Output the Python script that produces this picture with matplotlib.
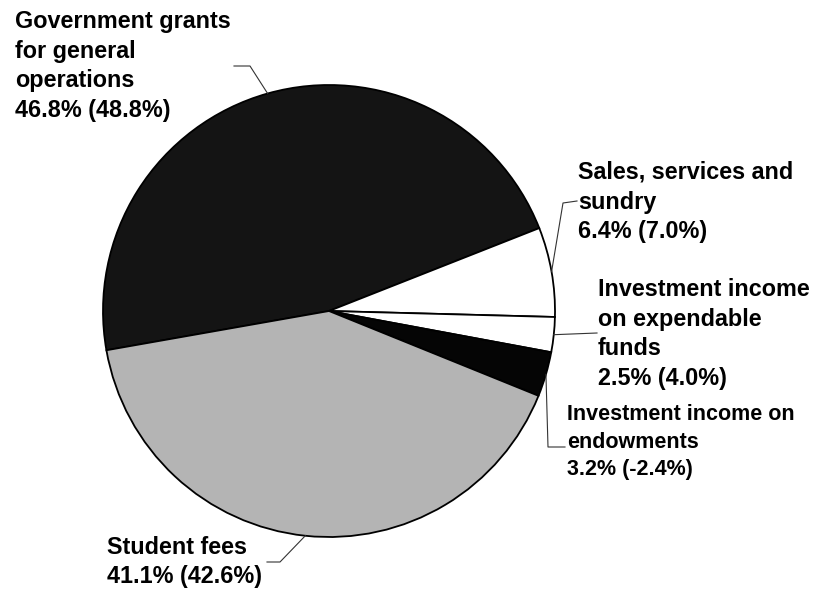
import numpy as np
import matplotlib.pyplot as plt

plt.rcParams['font.family'] = ['Liberation Sans', 'DejaVu Sans']

# revenue shares, in drawing order (clockwise from the left)
categories = ["Government grants\nfor general\noperations",
              "Sales, services and\nsundry",
              "Investment income\non expendable\nfunds",
              "Investment income on\nendowments",
              "Student fees"]
shares = [46.8, 6.4, 2.5, 3.2, 41.1]
prior = [48.8, 7.0, 4.0, -2.4, 42.6]
colors = ['#141414', '#ffffff', '#ffffff', '#050505', '#b4b4b4']

W, H = 819, 591
fig = plt.figure(figsize=(W / 100, H / 100), dpi=100)
ax = fig.add_axes([0, 0, 1, 1])

cx, cy, r = 329, H - 311, 226
start = 190.0
wedges, _ = ax.pie(shares, colors=colors, startangle=start, counterclock=False,
                   center=(cx, cy), radius=r,
                   wedgeprops=dict(edgecolor='black', linewidth=1.3))
ax.set_xlim(0, W)
ax.set_ylim(0, H)
ax.set_aspect('equal')
ax.axis('off')

# label layout: text left x, text centre y (pixels from top), font size, leader elbows
layout = [
    (15, 66, 16.8, [(250, 66), (234, 66)]),
    (578, 202, 16.8, [(563, 203), (577, 201)]),
    (598, 334, 16.8, [(597, 333)]),
    (567, 442, 15.5, [(548, 447), (565, 447)]),
    (107, 562, 16.8, [(280, 562), (267, 562)]),
]

for w, name, s, p, (tx, ty, fs, elbows) in zip(wedges, categories, shares, prior, layout):
    mid = np.deg2rad((w.theta1 + w.theta2) / 2)
    ex, ey = cx + r * np.cos(mid), cy + r * np.sin(mid)
    xs = [ex] + [e[0] for e in elbows]
    ys = [ey] + [H - e[1] for e in elbows]
    ax.plot(xs, ys, color='#333333', linewidth=0.8)
    ax.text(tx, H - ty, f"{name}\n{s:.1f}% ({p:.1f}%)", ha='left', va='center',
            fontsize=fs, fontweight='bold', linespacing=1.38, color='black')

fig.savefig('out.png', dpi=100)
